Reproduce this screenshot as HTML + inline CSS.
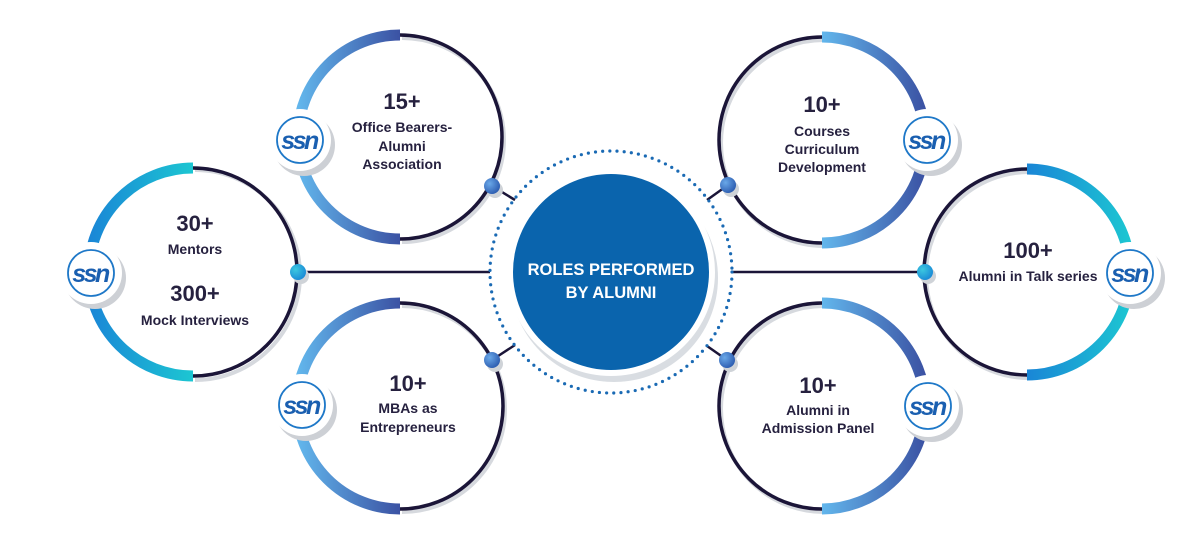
<!DOCTYPE html>
<html><head><meta charset="utf-8"><style>
html,body{margin:0;padding:0;background:#fff;width:1200px;height:540px;overflow:hidden}
svg{display:block}
text{font-family:"Liberation Sans",sans-serif;font-weight:bold;fill:#26213f;text-anchor:middle}
.n{font-size:22px}.l{font-size:14px}
.ssn{font-size:25px;font-style:italic;fill:#1a5fb0;letter-spacing:-2.5px;font-weight:900}
.c{fill:#fff;font-size:16.5px}
</style></head><body>
<svg width="1200" height="540" viewBox="0 0 1200 540">
<defs>
<linearGradient id="gA" gradientUnits="userSpaceOnUse" x1="89" y1="0" x2="193" y2="0"><stop offset="0" stop-color="#1a86d6"/><stop offset="1" stop-color="#1cc6d2"/></linearGradient>
<linearGradient id="gF" gradientUnits="userSpaceOnUse" x1="1027" y1="0" x2="1130" y2="0"><stop offset="0" stop-color="#1a86d6"/><stop offset="1" stop-color="#1cc6d2"/></linearGradient>
<linearGradient id="gB" gradientUnits="userSpaceOnUse" x1="298" y1="0" x2="400" y2="0"><stop offset="0" stop-color="#62b6ec"/><stop offset="1" stop-color="#3b52a3"/></linearGradient>
<linearGradient id="gD" gradientUnits="userSpaceOnUse" x1="822" y1="0" x2="925" y2="0"><stop offset="0" stop-color="#62b6ec"/><stop offset="1" stop-color="#3b52a3"/></linearGradient>
<radialGradient id="dot" cx="0.35" cy="0.35" r="0.7"><stop offset="0" stop-color="#6aa8e8"/><stop offset="1" stop-color="#2c5cb0"/></radialGradient>
<radialGradient id="dotc" cx="0.35" cy="0.35" r="0.7"><stop offset="0" stop-color="#3cc8e0"/><stop offset="1" stop-color="#1a8ad6"/></radialGradient>
</defs>

<g stroke="#1b1538" stroke-width="2.5">
<line x1="298" y1="272" x2="490" y2="272"/>
<line x1="732" y1="272" x2="925" y2="272"/>
<line x1="492" y1="186" x2="515" y2="200"/>
<line x1="492" y1="360" x2="515" y2="345"/>
<line x1="728" y1="185" x2="707" y2="200"/>
<line x1="727" y1="360" x2="707" y2="346"/>
</g>

<circle cx="611" cy="272" r="121" fill="none" stroke="#1a6ab4" stroke-width="3.2" stroke-dasharray="0 7.2" stroke-linecap="round"/>
<circle cx="614" cy="278" r="104" fill="#d9dde2"/>
<circle cx="611" cy="272" r="104" fill="#fff"/>
<circle cx="611" cy="272" r="98" fill="#0a64ad"/>
<text class="c" x="611" y="275">ROLES PERFORMED</text>
<text class="c" x="611" y="298">BY ALUMNI</text>

<g fill="none" stroke="#d6d9de" stroke-width="4">
<path d="M195,170 A104,104 0 0 1 195,380"/>
<path d="M402,38 A102,102 0 0 1 402,242"/>
<path d="M402,306 A103,103 0 0 1 402,512"/>
<path d="M824,40 A103,103 0 0 0 824,246"/>
<path d="M824,306 A103,103 0 0 0 824,512"/>
<path d="M1029,172 A103,103 0 0 0 1029,378"/>
</g>
<g fill="none" stroke="#1b1538" stroke-width="3.5">
<path d="M193,168 A104,104 0 0 1 193,376"/>
<path d="M400,35 A102,102 0 0 1 400,239"/>
<path d="M400,303 A103,103 0 0 1 400,509"/>
<path d="M822,37 A103,103 0 0 0 822,243"/>
<path d="M822,303 A103,103 0 0 0 822,509"/>
<path d="M1027,169 A103,103 0 0 0 1027,375"/>
</g>
<g fill="none" stroke-width="11">
<path d="M193,168 A104,104 0 0 0 193,376" stroke="url(#gA)"/>
<path d="M400,35 A102,102 0 0 0 400,239" stroke="url(#gB)"/>
<path d="M400,303 A103,103 0 0 0 400,509" stroke="url(#gB)"/>
<path d="M822,37 A103,103 0 0 1 822,243" stroke="url(#gD)"/>
<path d="M822,303 A103,103 0 0 1 822,509" stroke="url(#gD)"/>
<path d="M1027,169 A103,103 0 0 1 1027,375" stroke="url(#gF)"/>
</g>

<g fill="#cfd3d8">
<circle cx="301" cy="276" r="8"/><circle cx="928" cy="276" r="8"/>
<circle cx="495" cy="190" r="8"/><circle cx="495" cy="364" r="8"/>
<circle cx="731" cy="189" r="8"/><circle cx="730" cy="364" r="8"/>
</g>
<circle cx="298" cy="272" r="8" fill="url(#dotc)"/>
<circle cx="925" cy="272" r="8" fill="url(#dotc)"/>
<circle cx="492" cy="186" r="8" fill="url(#dot)"/>
<circle cx="492" cy="360" r="8" fill="url(#dot)"/>
<circle cx="728" cy="185" r="8" fill="url(#dot)"/>
<circle cx="727" cy="360" r="8" fill="url(#dot)"/>

<g>
<g transform="translate(91,273)"><circle cx="4" cy="5" r="31" fill="#cdd0d5"/><circle r="31" fill="#fff"/><circle r="23" fill="none" stroke="#1e78c8" stroke-width="1.8"/><text class="ssn" x="-1" y="9">ssn</text></g>
<g transform="translate(300,140)"><circle cx="4" cy="5" r="31" fill="#cdd0d5"/><circle r="31" fill="#fff"/><circle r="23" fill="none" stroke="#1e78c8" stroke-width="1.8"/><text class="ssn" x="-1" y="9">ssn</text></g>
<g transform="translate(302,405)"><circle cx="4" cy="5" r="31" fill="#cdd0d5"/><circle r="31" fill="#fff"/><circle r="23" fill="none" stroke="#1e78c8" stroke-width="1.8"/><text class="ssn" x="-1" y="9">ssn</text></g>
<g transform="translate(927,140)"><circle cx="4" cy="5" r="31" fill="#cdd0d5"/><circle r="31" fill="#fff"/><circle r="23" fill="none" stroke="#1e78c8" stroke-width="1.8"/><text class="ssn" x="-1" y="9">ssn</text></g>
<g transform="translate(928,406)"><circle cx="4" cy="5" r="31" fill="#cdd0d5"/><circle r="31" fill="#fff"/><circle r="23" fill="none" stroke="#1e78c8" stroke-width="1.8"/><text class="ssn" x="-1" y="9">ssn</text></g>
<g transform="translate(1130,273)"><circle cx="4" cy="5" r="31" fill="#cdd0d5"/><circle r="31" fill="#fff"/><circle r="23" fill="none" stroke="#1e78c8" stroke-width="1.8"/><text class="ssn" x="-1" y="9">ssn</text></g>
</g>

<text class="n" x="195" y="231">30+</text>
<text class="l" x="195" y="254">Mentors</text>
<text class="n" x="195" y="301">300+</text>
<text class="l" x="195" y="325">Mock Interviews</text>

<text class="n" x="402" y="109">15+</text>
<text class="l" x="402" y="132">Office Bearers-</text>
<text class="l" x="402" y="151">Alumni</text>
<text class="l" x="402" y="169">Association</text>

<text class="n" x="408" y="391">10+</text>
<text class="l" x="408" y="413">MBAs as</text>
<text class="l" x="408" y="432">Entrepreneurs</text>

<text class="n" x="822" y="112">10+</text>
<text class="l" x="822" y="136">Courses</text>
<text class="l" x="822" y="154">Curriculum</text>
<text class="l" x="822" y="172">Development</text>

<text class="n" x="1028" y="258">100+</text>
<text class="l" x="1028" y="281">Alumni in Talk series</text>

<text class="n" x="818" y="393">10+</text>
<text class="l" x="818" y="415">Alumni in</text>
<text class="l" x="818" y="433">Admission Panel</text>
</svg>
</body></html>
